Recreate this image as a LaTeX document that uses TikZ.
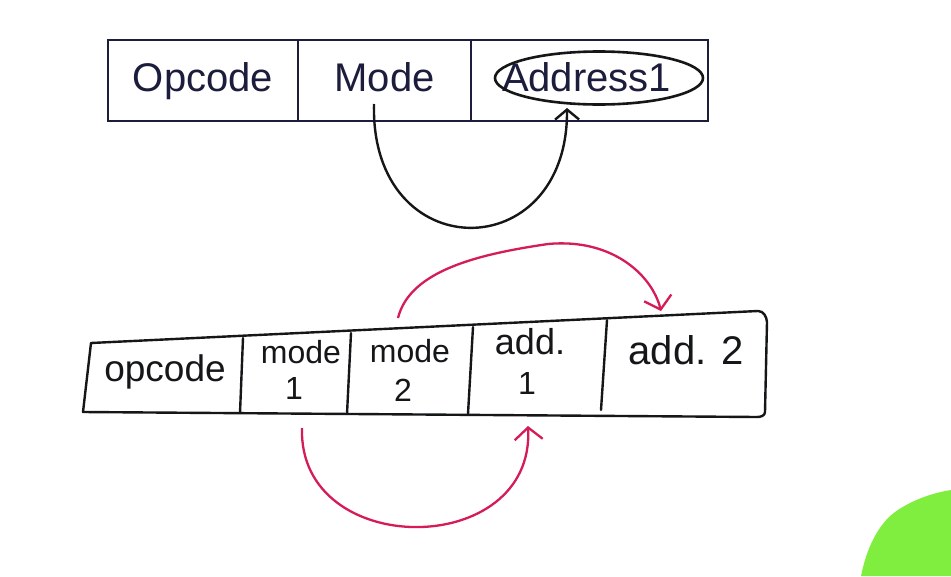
\documentclass[tikz,border=0pt]{standalone}
\usepackage{fontspec}
\setmainfont{Liberation Sans}
\usetikzlibrary{arrows.meta,shapes.geometric}
\definecolor{navy}{RGB}{28,28,60}
\definecolor{ink}{RGB}{20,22,24}
\definecolor{redpen}{RGB}{214,28,86}
\definecolor{blob}{RGB}{128,238,62}
\tikzset{
  topcell/.style={draw=navy, line width=1.6pt, minimum height=81pt, inner sep=0pt, text height=30pt, text depth=8pt, text=navy, font=\fontsize{40}{46}\selectfont},
  hand/.style={text=ink, font=\fontsize{32}{36}\selectfont, align=center, inner sep=0pt},
  handline/.style={draw=ink, line width=2.4pt, line cap=round, line join=round},
  blackarrow/.style={draw=ink, line width=2.4pt, -{Straight Barb[length=10pt,width=24pt,line width=2.4pt]}},
  redarrow/.style={draw=redpen, line width=2.3pt, -{Straight Barb[length=12pt,width=28pt,line width=2.3pt]}}
}
\begin{document}
\begin{tikzpicture}[x=1pt,y=-1pt]
\useasboundingbox[fill=white] (0,0) rectangle (951,576);
% green blob
\fill[blob] (951,490) .. controls (925,494) and (900,506) .. (888,518) .. controls (874,533) and (866,552) .. (861,576) -- (951,576) -- cycle;
% top format
\node[topcell, minimum width=190pt] (opc) at (203,80.5) {Opcode};
\node[topcell, minimum width=173pt] (mode) at (384.5,80.5) {Mode};
\node[topcell, minimum width=237pt] (addr) at (589.5,80.5) {\hspace*{-6pt}Address1};
\node[draw=ink, line width=2.6pt, ellipse, minimum width=208pt, minimum height=53pt] (ell) at (599,78) {};
\coordinate (ms) at (374,104);
\coordinate (ae) at (567,108);
\draw[blackarrow] (ms) .. controls (370,268) and (568,268) .. (ae);
% bottom handwritten format
\coordinate (tl) at (91,343);
\coordinate (tr) at (758,311);
\coordinate (br) at (765,412);
\coordinate (bl) at (83,412);
\draw[handline] (tl) -- (tr) to[out=0,in=95] (767,322) -- (br) to[out=-90,in=0] (757,417) -- (bl) -- cycle;
\draw[handline] (243,338) -- (240,413);
\draw[handline] (351,333) -- (347,414);
\draw[handline] (473,327) -- (468,414);
\draw[handline] (607,320) -- (601,410);
\node[hand, font=\fontsize{37}{40}\selectfont] (t1) at (165,372) {opcode};
\node[hand] (t2a) at (301,352) {mode};
\node[hand] (t2b) at (294,388) {1};
\node[hand] (t3a) at (410,351) {mode};
\node[hand] (t3b) at (403,390) {2};
\node[hand, font=\fontsize{36}{40}\selectfont] (t4a) at (530,342) {add.};
\node[hand] (t4b) at (527,383) {1};
\node[hand, font=\fontsize{40}{44}\selectfont] (t5) at (686,350) {add. 2};
% red arrows
\coordinate (r1s) at (398,318);
\coordinate (r1e) at (661,311);
\draw[redarrow] (r1s) .. controls (410,270) and (480,254) .. (548,244) .. controls (612,238) and (652,275) .. (r1e);
\coordinate (r2s) at (302,428);
\coordinate (r2e) at (528,426);
\draw[redarrow] (r2s) .. controls (298,560) and (535,560) .. (r2e);
\end{tikzpicture}
\end{document}
